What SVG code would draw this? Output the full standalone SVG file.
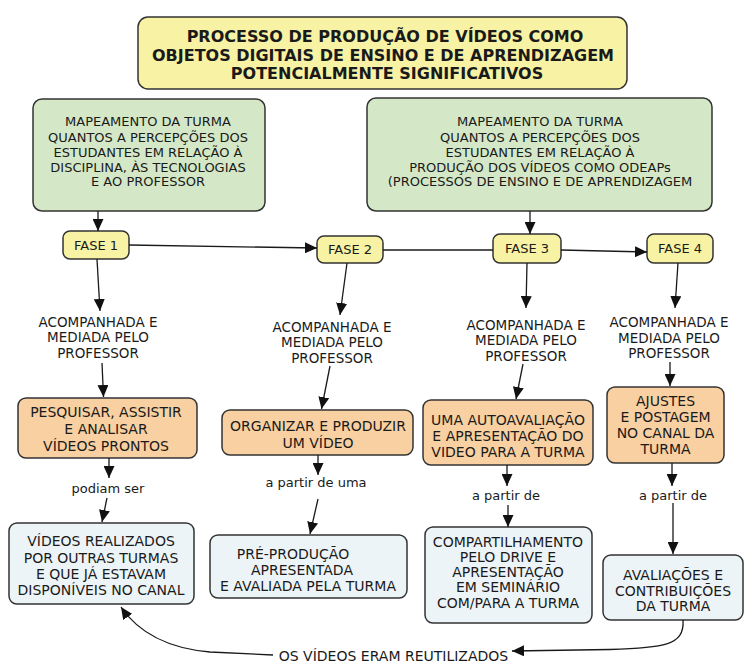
<svg xmlns="http://www.w3.org/2000/svg" width="747" height="664" viewBox="0 0 747 664">
<defs>
<marker id="ah" markerUnits="userSpaceOnUse" markerWidth="12" markerHeight="11" refX="12" refY="5.5" orient="auto"><path d="M0,0 L12,5.5 L0,11 Z" fill="#111"/></marker>
</defs>
<style>
.t{font-family:"DejaVu Sans",Verdana,sans-serif;fill:#1a1a1a;text-anchor:middle}
.ti{font-weight:bold;font-size:16px}
.g{font-size:13px}
.b{font-size:14px}
.f{font-size:13px}
.l{font-size:13.5px}
.s{font-size:13px}
.box{stroke:#333;stroke-width:1.5}
.yel{fill:#f8f2a4}
.grn{fill:#d4e8c7}
.org{fill:#f9d0a1}
.blu{fill:#edf4f7}
.c{fill:none;stroke:#1a1a1a;stroke-width:1.3}
.a{marker-end:url(#ah)}
</style>
<rect width="747" height="664" fill="#fff"/>

<g id="title">
<rect class="box yel" x="138" y="17" width="489" height="72" rx="10"/>
<text class="t ti" x="385" y="42">PROCESSO DE PRODUÇÃO DE VÍDEOS COMO</text>
<text class="t ti" x="383" y="60.5">OBJETOS DIGITAIS DE ENSINO E DE APRENDIZAGEM</text>
<text class="t ti" x="387" y="78.5">POTENCIALMENTE SIGNIFICATIVOS</text>
</g>

<g id="mapeamento1">
<rect class="box grn" x="33" y="99" width="232" height="112" rx="9"/>
<text class="t g" x="148" y="126">MAPEAMENTO DA TURMA</text>
<text class="t g" x="148" y="141.5">QUANTOS A PERCEPÇÕES DOS</text>
<text class="t g" x="148" y="156.5">ESTUDANTES EM RELAÇÃO À</text>
<text class="t g" x="148" y="171.5">DISCIPLINA, ÀS TECNOLOGIAS</text>
<text class="t g" x="148" y="186">E  AO PROFESSOR</text>
</g>

<g id="mapeamento2">
<rect class="box grn" x="367" y="98" width="345" height="113" rx="9"/>
<text class="t g" x="540" y="126">MAPEAMENTO DA TURMA</text>
<text class="t g" x="540" y="141.5">QUANTOS A PERCEPÇÕES DOS</text>
<text class="t g" x="540" y="156.5">ESTUDANTES EM RELAÇÃO À</text>
<text class="t g" x="540" y="171.5">PRODUÇÃO DOS VÍDEOS COMO ODEAPs</text>
<text class="t g" x="540" y="186">(PROCESSOS DE ENSINO E DE APRENDIZAGEM</text>
</g>

<g id="fase1">
<rect class="box yel" x="63" y="231" width="66" height="28" rx="7"/>
<text class="t f" x="96" y="250">FASE 1</text>
</g>
<g id="fase2">
<rect class="box yel" x="317" y="236" width="66" height="27" rx="7"/>
<text class="t f" x="350" y="254">FASE 2</text>
</g>
<g id="fase3">
<rect class="box yel" x="493" y="234" width="68" height="29" rx="7"/>
<text class="t f" x="527" y="253">FASE 3</text>
</g>
<g id="fase4">
<rect class="box yel" x="647" y="234" width="66" height="29" rx="7"/>
<text class="t f" x="680" y="253">FASE 4</text>
</g>

<g id="acomp1">
<text class="t l" x="98" y="327">ACOMPANHADA E</text>
<text class="t l" x="98" y="342">MEDIADA PELO</text>
<text class="t l" x="98" y="358">PROFESSOR</text>
</g>
<g id="acomp2">
<text class="t l" x="332" y="332">ACOMPANHADA E</text>
<text class="t l" x="332" y="347">MEDIADA PELO</text>
<text class="t l" x="332" y="363">PROFESSOR</text>
</g>
<g id="acomp3">
<text class="t l" x="526" y="330">ACOMPANHADA E</text>
<text class="t l" x="526" y="345">MEDIADA PELO</text>
<text class="t l" x="526" y="361">PROFESSOR</text>
</g>
<g id="acomp4">
<text class="t l" x="669" y="327">ACOMPANHADA E</text>
<text class="t l" x="669" y="343">MEDIADA PELO</text>
<text class="t l" x="669" y="358">PROFESSOR</text>
</g>

<g id="pesquisar">
<rect class="box org" x="18" y="398" width="179" height="60" rx="8"/>
<text class="t b" x="106" y="417">PESQUISAR, ASSISTIR</text>
<text class="t b" x="106" y="434">E ANALISAR</text>
<text class="t b" x="106" y="451">VÍDEOS PRONTOS</text>
</g>
<g id="organizar">
<rect class="box org" x="222" y="410" width="191" height="45" rx="8"/>
<text class="t b" x="318" y="431">ORGANIZAR E PRODUZIR</text>
<text class="t b" x="318" y="448">UM VÍDEO</text>
</g>
<g id="autoavaliacao">
<rect class="box org" x="423" y="400" width="170" height="65" rx="8"/>
<text class="t b" x="508" y="425">UMA AUTOAVALIAÇÃO</text>
<text class="t b" x="508" y="441">E APRESENTAÇÃO DO</text>
<text class="t b" x="508" y="457">VIDEO PARA A TURMA</text>
</g>
<g id="ajustes">
<rect class="box org" x="607" y="387" width="117" height="76" rx="8"/>
<text class="t b" x="665.5" y="406">AJUSTES</text>
<text class="t b" x="665.5" y="422">E POSTAGEM</text>
<text class="t b" x="665.5" y="438">NO CANAL DA</text>
<text class="t b" x="665.5" y="454">TURMA</text>
</g>

<g id="podiam">
<text class="t s" x="108" y="493">podiam ser</text>
</g>
<g id="apartir1">
<text class="t s" x="316" y="487">a partir de uma</text>
</g>
<g id="apartir2">
<text class="t s" x="506" y="500">a partir de</text>
</g>
<g id="apartir3">
<text class="t s" x="673" y="500">a partir de</text>
</g>

<g id="videos">
<rect class="box blu" x="9" y="523" width="185" height="81" rx="8"/>
<text class="t b" x="101" y="546">VÍDEOS REALIZADOS</text>
<text class="t b" x="101" y="563">POR OUTRAS TURMAS</text>
<text class="t b" x="101" y="579">E QUE JÁ ESTAVAM</text>
<text class="t b" x="101" y="595">DISPONÍVEIS NO CANAL</text>
</g>
<g id="preproducao">
<rect class="box blu" x="210" y="535" width="197" height="63" rx="8"/>
<text class="t b" x="293" y="559">PRÉ-PRODUÇÃO</text>
<text class="t b" x="302" y="575">APRESENTADA</text>
<text class="t b" x="308" y="591">E AVALIADA PELA TURMA</text>
</g>
<g id="compartilhamento">
<rect class="box blu" x="425" y="527" width="167" height="96" rx="8"/>
<text class="t b" x="508" y="547">COMPARTILHAMENTO</text>
<text class="t b" x="508" y="562">PELO DRIVE E</text>
<text class="t b" x="508" y="577">APRESENTAÇÃO</text>
<text class="t b" x="508" y="592">EM SEMINÁRIO</text>
<text class="t b" x="508" y="608">COM/PARA A TURMA</text>
</g>
<g id="avaliacoes">
<rect class="box blu" x="603" y="555" width="140" height="65" rx="8"/>
<text class="t b" x="673" y="580">AVALIAÇÕES E</text>
<text class="t b" x="673" y="596">CONTRIBUIÇÕES</text>
<text class="t b" x="673" y="611">DA TURMA</text>
</g>

<g id="reutilizados">
<text class="t b" x="393.5" y="661">OS VÍDEOS ERAM REUTILIZADOS</text>
</g>

<g id="connectors">
<path class="c a" d="M98,211 L98,231"/>
<path class="c a" d="M530,211 L530,234"/>
<path class="c a" d="M129,245 L317,248"/>
<path class="c" d="M383,250 L493,250"/>
<path class="c a" d="M561,250 L647,252"/>
<path class="c a" d="M97,259 L100,311"/>
<path class="c a" d="M102,363 L103.5,397"/>
<path class="c a" d="M109,458 L109,478"/>
<path class="c a" d="M107,498 L102,522"/>
<path class="c a" d="M347,263 L340,315"/>
<path class="c a" d="M330,366 L321.5,409"/>
<path class="c a" d="M318,455 L318,475"/>
<path class="c a" d="M318,499 L310,534"/>
<path class="c a" d="M527,263 L526,308"/>
<path class="c a" d="M523,364 L516,399"/>
<path class="c a" d="M507,465 L507,486"/>
<path class="c a" d="M508,505 L508,527"/>
<path class="c a" d="M678,263 L675,308"/>
<path class="c a" d="M670,362 L670,386"/>
<path class="c a" d="M672,463 L672,486"/>
<path class="c a" d="M673,503 L673,554"/>
<path class="c a" d="M683,620 C685,646 662,648 610,649.5 L512,651"/>
<path class="c a" d="M273,655 L210,652 C165,648 138,632 121,607"/>
</g>
</svg>
